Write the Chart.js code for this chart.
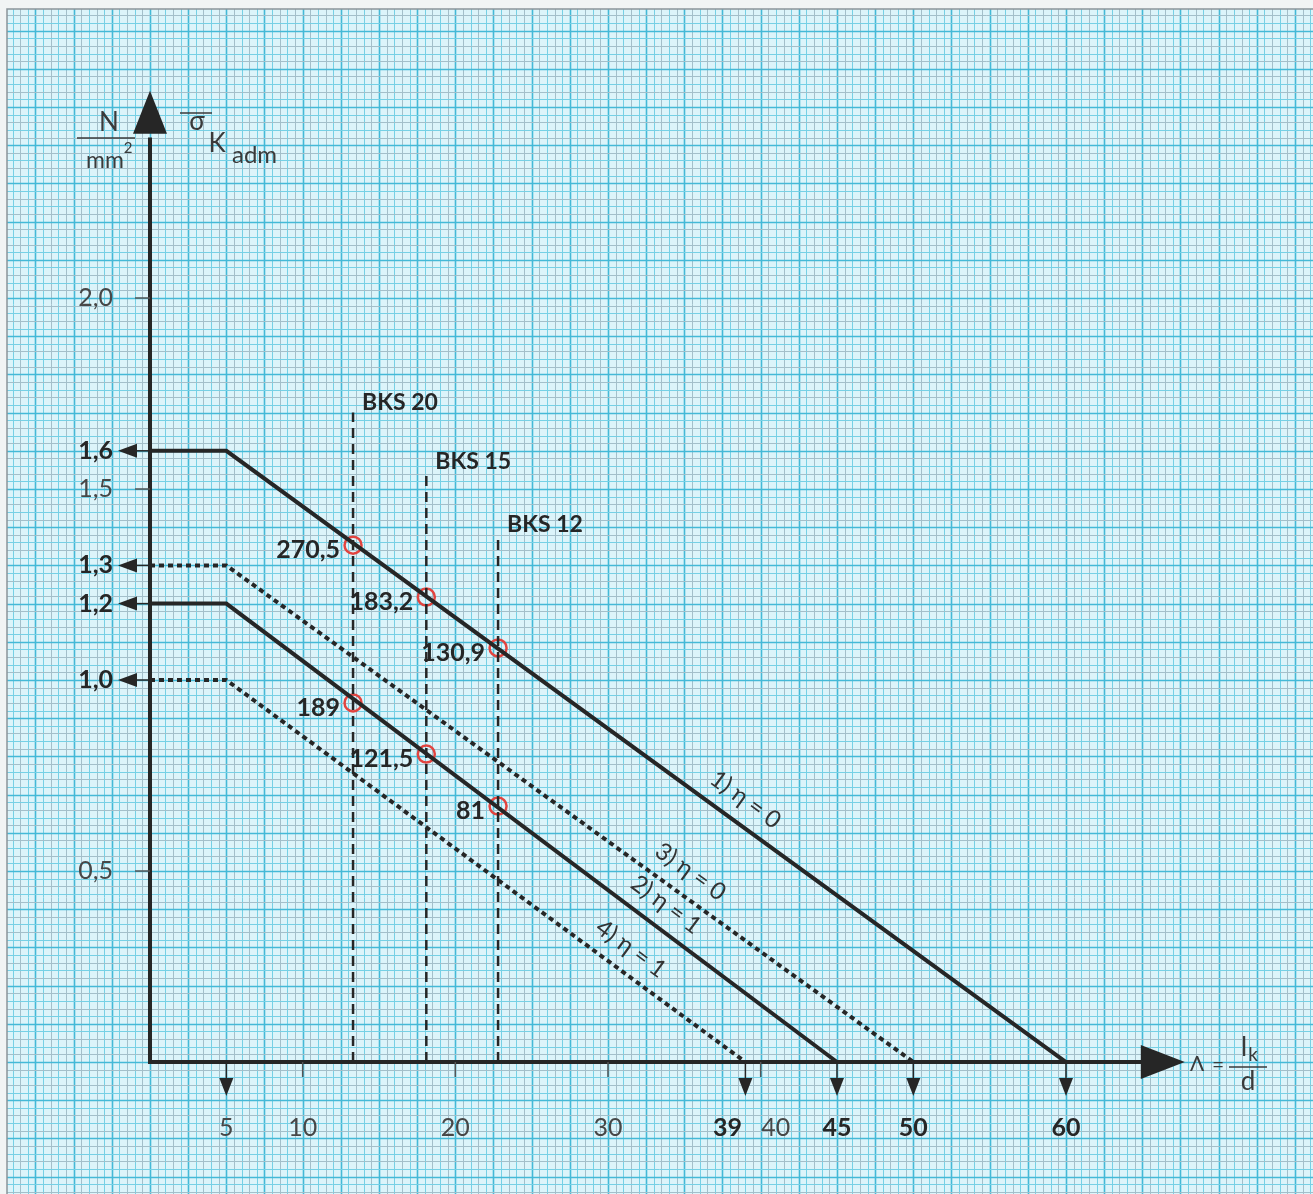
<!DOCTYPE html>
<html>
<head>
<meta charset="utf-8">
<script src="https://cdn.jsdelivr.net/npm/chart.js@4.4.1/dist/chart.umd.min.js"></script>
<style>
  html, body { margin: 0; padding: 0; background: #fff; }
  #contenedor { width: 1313px; height: 1194px; }
</style>
</head>
<body>
<div id="contenedor"><canvas id="grafico"></canvas></div>
<script>
// rectas de tension admisible (esbeltez, N/mm2)
var curva1X = [0, 5, 60];   var curva1Y = [1.6, 1.6, 0];
var curva2X = [0, 5, 45];   var curva2Y = [1.2, 1.2, 0];
var curva3X = [0, 5, 50];   var curva3Y = [1.3, 1.3, 0];
var curva4X = [0, 5, 39];   var curva4Y = [1.0, 1.0, 0];
var curvasTexto = ['1) η = 0', '2) η = 1', '3) η = 0', '4) η = 1'];

// ladrillos BKS
var bksTexto = ['BKS 20', 'BKS 15', 'BKS 12'];
var bksX = [13.3, 18.1, 22.8];
var bksAlto = [1.70, 1.545, 1.38];

// puntos marcados
var puntosX = [13.3, 18.1, 22.8, 13.3, 18.1, 22.8];
var puntosY = [1.353, 1.217, 1.084, 0.940, 0.806, 0.670];
var puntosTexto = ['270,5', '183,2', '130,9', '189', '121,5', '81'];

// ejes
var ticksY = [2.0, 1.5, 0.5];
var ticksYTexto = ['2,0', '1,5', '0,5'];
var nivelesY = [1.6, 1.3, 1.2, 1.0];
var nivelesYTexto = ['1,6', '1,3', '1,2', '1,0'];
var ticksX = [10, 20, 30, 40];
var ticksXTexto = ['10', '20', '30', '40'];
var flechasX = [5, 39, 45, 50, 60];
var flechasXTexto = ['5', '39', '45', '50', '60'];

function puntos(xs, ys) {
    var r = [];
    for (var i = 0; i < xs.length; i++) r.push({ x: xs[i], y: ys[i] });
    return r;
}

var TINTA = '#262626';
var FUENTE = 'Lato, "DejaVu Sans", sans-serif';

var datasets = [
    { data: puntos(curva1X, curva1Y), borderColor: TINTA, borderWidth: 4 },
    { data: puntos(curva2X, curva2Y), borderColor: TINTA, borderWidth: 4 },
    { data: puntos(curva3X, curva3Y), borderColor: TINTA, borderWidth: 4, borderDash: [5, 4] },
    { data: puntos(curva4X, curva4Y), borderColor: TINTA, borderWidth: 4, borderDash: [5, 4] }
];
for (var b = 0; b < bksX.length; b++) {
    datasets.push({
        data: puntos([bksX[b], bksX[b]], [0, bksAlto[b]]),
        borderColor: TINTA, borderWidth: 2.5, borderDash: [10, 6]
    });
}
datasets.push({
    data: puntos(puntosX, puntosY),
    showLine: false,
    pointRadius: 8.5, pointHoverRadius: 8.5,
    pointBorderWidth: 2.5,
    pointBorderColor: '#e2443f',
    pointBackgroundColor: 'rgba(0,0,0,0)'
});

// papel milimetrado de fondo
var papel = {
    id: 'papel',
    beforeDatasetsDraw: function(chart) {
        var ctx = chart.ctx, sx = chart.scales.x, sy = chart.scales.y;
        var w = chart.width, h = chart.height;
        ctx.save();
        ctx.fillStyle = '#f1f4f4';
        ctx.fillRect(0, 0, w, h);
        ctx.fillStyle = '#dcf4fa';
        ctx.fillRect(7, 9, w - 7, h - 9);
        ctx.beginPath();
        ctx.rect(7, 9, w - 7, h - 9);
        ctx.clip();

        function estilo(k) {
            if (k % 5 === 0) { ctx.strokeStyle = '#44b9d7'; ctx.lineWidth = 1.6; }
            else if (Math.abs(k) % 2 === 1) { ctx.strokeStyle = '#a3bfca'; ctx.lineWidth = 1; }
            else { ctx.strokeStyle = '#76d0e5'; ctx.lineWidth = 1; }
        }
        for (var i = -20; i <= 153; i++) {
            var px = Math.round(sx.getPixelForValue(i * 0.5)) + 0.5;
            estilo(i);
            ctx.beginPath(); ctx.moveTo(px, 0); ctx.lineTo(px, h); ctx.stroke();
        }
        for (var j = -18; j <= 140; j++) {
            var py = Math.round(sy.getPixelForValue(j * 0.02)) + 0.5;
            estilo(j);
            ctx.beginPath(); ctx.moveTo(0, py); ctx.lineTo(w, py); ctx.stroke();
        }
        ctx.restore();

        ctx.save();
        ctx.strokeStyle = '#8a9499';
        ctx.lineWidth = 1.5;
        ctx.beginPath(); ctx.moveTo(7, h); ctx.lineTo(7, 9); ctx.lineTo(w, 9); ctx.stroke();
        ctx.restore();

        // ejes
        var x0 = sx.getPixelForValue(0), y0 = sy.getPixelForValue(0);
        ctx.save();
        ctx.strokeStyle = TINTA;
        ctx.fillStyle = TINTA;
        ctx.lineWidth = 4;
        ctx.beginPath();
        ctx.moveTo(x0, y0 + 2); ctx.lineTo(x0, sy.getPixelForValue(2.42));
        ctx.moveTo(x0 - 2, y0); ctx.lineTo(sx.getPixelForValue(65), y0);
        ctx.stroke();
        var yb = sy.getPixelForValue(2.43);
        ctx.beginPath(); ctx.moveTo(x0 - 17, yb); ctx.lineTo(x0 + 17, yb); ctx.lineTo(x0, yb - 43); ctx.closePath(); ctx.fill();
        var xb = sx.getPixelForValue(64.9);
        ctx.beginPath(); ctx.moveTo(xb, y0 - 17); ctx.lineTo(xb, y0 + 17); ctx.lineTo(xb + 44, y0); ctx.closePath(); ctx.fill();

        // marcas
        ctx.strokeStyle = '#555';
        ctx.lineWidth = 1.5;
        ticksY.forEach(function(v) {
            var py = sy.getPixelForValue(v);
            ctx.beginPath(); ctx.moveTo(x0 - 15, py); ctx.lineTo(x0, py); ctx.stroke();
        });
        ticksX.forEach(function(v) {
            var px = sx.getPixelForValue(v);
            ctx.beginPath(); ctx.moveTo(px, y0); ctx.lineTo(px, y0 + 15); ctx.stroke();
        });

        // flechas
        ctx.strokeStyle = TINTA;
        nivelesY.forEach(function(v) {
            var py = sy.getPixelForValue(v);
            ctx.beginPath(); ctx.moveTo(x0 - 14, py); ctx.lineTo(x0, py); ctx.stroke();
            ctx.beginPath(); ctx.moveTo(x0 - 13, py - 7); ctx.lineTo(x0 - 13, py + 7); ctx.lineTo(x0 - 32, py); ctx.closePath(); ctx.fill();
        });
        flechasX.forEach(function(v) {
            var px = sx.getPixelForValue(v);
            ctx.beginPath(); ctx.moveTo(px, y0); ctx.lineTo(px, y0 + 17); ctx.stroke();
            ctx.beginPath(); ctx.moveTo(px - 7, y0 + 16); ctx.lineTo(px + 7, y0 + 16); ctx.lineTo(px, y0 + 34); ctx.closePath(); ctx.fill();
        });
        ctx.restore();
    },
    afterDatasetsDraw: function(chart) {
        var ctx = chart.ctx, sx = chart.scales.x, sy = chart.scales.y;
        var x0 = sx.getPixelForValue(0), y0 = sy.getPixelForValue(0);
        ctx.save();
        ctx.textBaseline = 'middle';

        // etiquetas eje Y
        ctx.textAlign = 'right';
        ctx.fillStyle = '#474747';
        ctx.font = '25px ' + FUENTE;
        ticksY.forEach(function(v, i) {
            ctx.fillText(ticksYTexto[i], x0 - 37, sy.getPixelForValue(v));
        });
        ctx.fillStyle = TINTA;
        ctx.font = 'bold 25px ' + FUENTE;
        nivelesY.forEach(function(v, i) {
            ctx.fillText(nivelesYTexto[i], x0 - 37, sy.getPixelForValue(v));
        });

        // etiquetas eje X
        ctx.textAlign = 'center';
        var yt = y0 + 66;
        ctx.fillStyle = '#474747';
        ctx.font = '25px ' + FUENTE;
        ticksX.forEach(function(v, i) {
            var dx = (v === 40) ? 15 : 0;
            ctx.fillText(ticksXTexto[i], sx.getPixelForValue(v) + dx, yt);
        });
        flechasX.forEach(function(v, i) {
            ctx.font = (v === 5 ? '' : 'bold ') + '25px ' + FUENTE;
            ctx.fillStyle = v === 5 ? '#474747' : TINTA;
            var dx = (v === 39) ? -18 : 0;
            ctx.fillText(flechasXTexto[i], sx.getPixelForValue(v) + dx, yt);
        });

        // BKS
        ctx.textAlign = 'left';
        ctx.fillStyle = TINTA;
        ctx.font = 'bold 23px ' + FUENTE;
        bksX.forEach(function(v, i) {
            ctx.fillText(bksTexto[i], sx.getPixelForValue(v) + 9, sy.getPixelForValue(bksAlto[i]) - 10);
        });

        // valores de los puntos
        ctx.textAlign = 'right';
        ctx.font = 'bold 25px ' + FUENTE;
        puntosX.forEach(function(v, i) {
            ctx.fillText(puntosTexto[i], sx.getPixelForValue(v) - 13, sy.getPixelForValue(puntosY[i]) + 5);
        });

        // nombres de las rectas, girados segun la pendiente
        var curvas = [[curva1X, curva1Y, 39.0], [curva2X, curva2Y, 33.8], [curva3X, curva3Y, 35.4], [curva4X, curva4Y, 31.5]];
        ctx.textAlign = 'center';
        ctx.fillStyle = '#333';
        ctx.font = '24px ' + FUENTE;
        curvas.forEach(function(c, i) {
            var ax = sx.getPixelForValue(c[0][1]), ay = sy.getPixelForValue(c[1][1]);
            var bx = sx.getPixelForValue(c[0][2]), by = sy.getPixelForValue(c[1][2]);
            var ang = Math.atan2(by - ay, bx - ax);
            var px = sx.getPixelForValue(c[2]);
            var py = ay + (by - ay) * (px - ax) / (bx - ax) - 29;
            ctx.save();
            ctx.translate(px, py);
            ctx.rotate(ang);
            ctx.fillText(curvasTexto[i], 0, 0);
            ctx.restore();
        });

        // titulo eje Y
        ctx.fillStyle = '#3a3a3a';
        ctx.textAlign = 'center';
        ctx.font = '26px ' + FUENTE;
        ctx.fillText('N', x0 - 41, 123);
        ctx.font = '23px ' + FUENTE;
        ctx.fillText('mm', x0 - 45, 161);
        ctx.font = '15px ' + FUENTE;
        ctx.fillText('2', x0 - 22, 148);
        ctx.strokeStyle = '#3a3a3a';
        ctx.lineWidth = 1.5;
        ctx.beginPath(); ctx.moveTo(x0 - 73, 138); ctx.lineTo(x0 - 15, 138); ctx.stroke();
        ctx.font = '26px ' + FUENTE;
        ctx.fillText('σ', x0 + 47, 122);
        ctx.beginPath(); ctx.moveTo(x0 + 30, 113); ctx.lineTo(x0 + 62, 113); ctx.stroke();
        ctx.font = '26px ' + FUENTE;
        ctx.fillText('K', x0 + 67, 144);
        ctx.font = '24px ' + FUENTE;
        ctx.textAlign = 'left';
        ctx.fillText('adm', x0 + 82, 155);

        // titulo eje X
        ctx.textAlign = 'center';
        ctx.font = '21px ' + FUENTE;
        ctx.fillText('Λ', 1197, y0 + 2);
        ctx.fillText('=', 1218, y0 + 3);
        ctx.beginPath(); ctx.moveTo(1229, y0 + 5); ctx.lineTo(1267, y0 + 5); ctx.stroke();
        ctx.font = '26px ' + FUENTE;
        ctx.fillText('l', 1244, y0 - 14);
        ctx.font = '19px ' + FUENTE;
        ctx.fillText('k', 1253, y0 - 7);
        ctx.font = '26px ' + FUENTE;
        ctx.fillText('d', 1248, y0 + 20);
        ctx.restore();
    }
};

var ctx = document.getElementById('grafico').getContext('2d');
var grafico = new Chart(ctx, {
    type: 'line',
    data: { datasets: datasets },
    options: {
        responsive: true,
        maintainAspectRatio: false,
        animation: false,
        layout: { padding: 0, autoPadding: false },
        elements: {
            line: { tension: 0, borderCapStyle: 'butt', borderJoinStyle: 'miter' },
            point: { radius: 0, hoverRadius: 0 }
        },
        plugins: { legend: { display: false }, tooltip: { enabled: false } },
        scales: {
            x: { type: 'linear', min: -9.825, max: 76.18, display: false },
            y: { type: 'linear', min: -0.3455, max: 2.7801, display: false }
        }
    },
    plugins: [papel]
});
</script>
</body>
</html>
